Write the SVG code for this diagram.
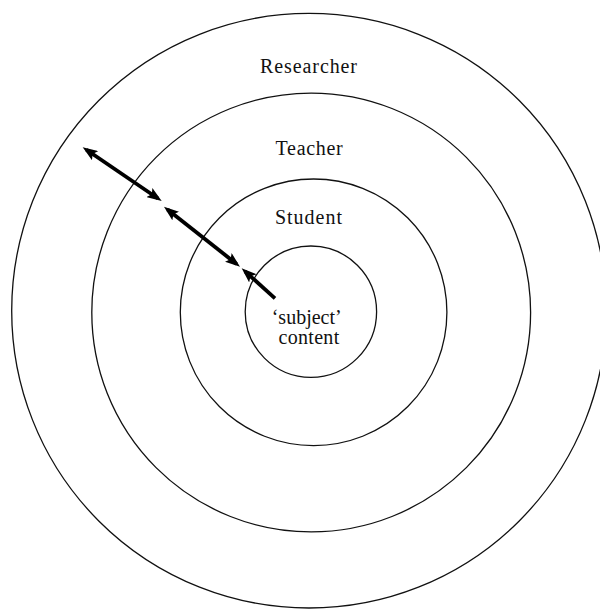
<svg xmlns="http://www.w3.org/2000/svg" width="600" height="610" viewBox="0 0 600 610">
  <style>
    .ring { fill: none; stroke: #111; stroke-width: 1.3; }
    .lbl { font-family: "Liberation Serif", "DejaVu Serif", serif; font-size: 20px; fill: #111; text-anchor: middle; }
    .arrow { stroke: #000; stroke-width: 3.8; fill: none; }
  </style>
  <defs>
    <marker id="head" markerUnits="userSpaceOnUse" viewBox="0 0 15 11" markerWidth="15" markerHeight="11" refX="10.5" refY="5.5" orient="auto-start-reverse">
      <path d="M0,0 L15,5.5 L0,11 L3,5.5 z" fill="#000"/>
    </marker>
  </defs>
  <rect width="600" height="610" fill="#fff"/>
  <g id="researcher">
    <circle class="ring" cx="309" cy="310.7" r="297.3"/>
    <text class="lbl" x="309" y="73" letter-spacing="0.9">Researcher</text>
  </g>
  <g id="teacher">
    <circle class="ring" cx="311.2" cy="312.5" r="219.4"/>
    <text class="lbl" x="309.5" y="154.5" letter-spacing="0.7">Teacher</text>
  </g>
  <g id="student">
    <circle class="ring" cx="313.6" cy="312.3" r="133.3"/>
    <text class="lbl" x="309" y="223.5" letter-spacing="1">Student</text>
  </g>
  <g id="content">
    <circle class="ring" cx="310.9" cy="311.7" r="65.7"/>
    <text class="lbl" x="306.7" y="323.5">‘subject’</text>
    <text class="lbl" x="309" y="344" letter-spacing="0.3">content</text>
  </g>
  <g id="connectors">
    <line class="arrow" x1="86.4" y1="149.8" x2="158" y2="198.5" marker-start="url(#head)" marker-end="url(#head)"/>
    <line class="arrow" x1="167.5" y1="209.5" x2="236.5" y2="263.9" marker-start="url(#head)" marker-end="url(#head)"/>
    <line class="arrow" x1="245" y1="271.3" x2="275" y2="298.3" marker-start="url(#head)"/>
  </g>
</svg>
